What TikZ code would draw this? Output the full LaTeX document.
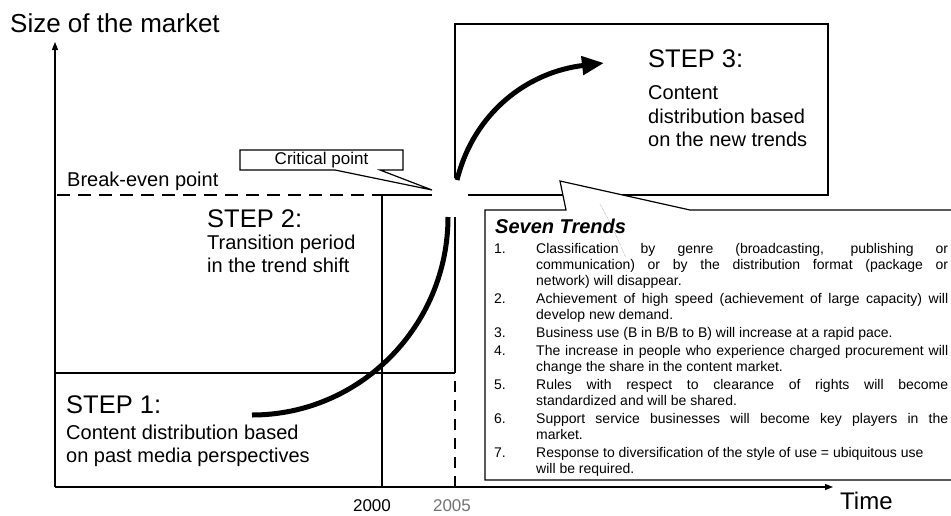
\documentclass[tikz,border=0pt]{standalone}
\usepackage{fontspec}
\setmainfont{Liberation Sans}
\usetikzlibrary{arrows.meta}
\newcommand\setfs[1]{\fontsize{#1}{#1}\selectfont}
\newcommand\jline[1]{\makebox[412pt][s]{#1}}
\begin{document}
\begin{tikzpicture}[x=1pt,y=-1pt,
  rule/.style={line width=1.2pt, black},
  axis/.style={rule, -{Triangle[length=8pt,width=6pt]}},
  trendline/.style={line width=5pt, black},
  lbl/.style={inner sep=0pt, anchor=base west},
  steptitle/.style={lbl, font=\setfs{25.5}},
  stepsub/.style={lbl, font=\setfs{20}},
  listtext/.style={lbl, font=\setfs{14}},
  callout/.style={rule, fill=white, line join=miter}
]
\useasboundingbox (0,0) rectangle (951,515);
\fill[white] (0,0) rectangle (951,515);

% axes
\coordinate (O) at (55,487);
\coordinate (ytop) at (55,42);
\coordinate (xend) at (833,487);
\draw[axis] (O) -- (ytop);
\draw[axis] (O) -- (xend);

% period grid: step 1 / step 2 areas, years 2000 and 2005
\draw[rule] (55,373) -- (455,373);
\draw[rule] (382,195) -- (382,487);
\draw[rule] (455,217) -- (455,373);
\draw[rule, dash pattern=on 11pt off 8pt] (455,381) -- (455,487);

% break-even level
\draw[rule, dash pattern=on 13pt off 8pt] (57,195) -- (382,195);
\draw[rule] (382,195) -- (432,195);

% step 3 frame
\draw[rule] (455,178) -- (455,24) -- (828,24) -- (828,195) -- (468,195);

% seven trends callout
\fill[white] (485,210) -- (566,210) -- (560,181) -- (690,210) -- (951,210) -- (951,480) -- (485,480) -- cycle;
\draw[rule, line join=miter] (951,210) -- (690,210) -- (560,181) -- (566,210) -- (485,210) -- (485,480) -- (951,480);
\draw[gray, densely dotted, line width=0.5pt] (600,204) .. controls (612,226) .. (626,258);

% critical point callout
\draw[callout] (240,150) -- (403,150) -- (403,170) -- (380,170) -- (432,190) -- (335,170) -- (240,170) -- cycle;
\node[inner sep=0pt] (crit) at (321.5,160.5) {\setfs{17}Critical point};

% market growth curve
\coordinate (c0) at (252,415);
\coordinate (c1) at (448,217);
\coordinate (c2) at (457,180);
\coordinate (c3) at (604,63);
\draw[trendline] (c0) .. controls (360,415) and (448,326) .. (c1);
\draw[trendline, -{Triangle[length=22pt,width=18pt]}] (c2) .. controls (474,112) and (528,72) .. (c3);

% labels
\node[lbl, font=\setfs{26}] (ylabel) at (10,32) {Size of the market};
\node[lbl, font=\setfs{20}] (bep) at (67,186) {Break-even point};
\node[lbl, font=\setfs{24}] (xlabel) at (840,509) {Time};
\node[inner sep=0pt, anchor=base, font=\setfs{17}] (y2000) at (372,511) {2000};
\node[inner sep=0pt, anchor=base, font=\setfs{17}, text=black!55] (y2005) at (452,511) {2005};

\node[steptitle] (s2t) at (207,227) {STEP 2:};
\node[stepsub] (s2a) at (207,249) {Transition period};
\node[stepsub] (s2b) at (207,272) {in the trend shift};

\node[steptitle] (s1t) at (66,413) {STEP 1:};
\node[stepsub] (s1a) at (66,439) {Content distribution based};
\node[stepsub] (s1b) at (66,462) {on past media perspectives};

\node[steptitle] (s3t) at (648,67) {STEP 3:};
\node[stepsub] (s3a) at (648,99) {Content};
\node[stepsub] (s3b) at (648,123) {distribution based};
\node[stepsub] (s3c) at (648,146) {on the new trends};

% seven trends list
\node[lbl, font=\setfs{20}\bfseries\itshape] (trendhead) at (495,233) {Seven Trends};
\foreach \n/\yy in {1/253,2/303,3/337,4/355,5/389,6/423,7/457}
  \node[listtext] (num\n) at (494,\yy) {\n.};
\node[listtext] (t1a) at (536,253) {\jline{Classification by genre (broadcasting, publishing or}};
\node[listtext] (t1b) at (536,269) {\jline{communication) or by the distribution format (package or}};
\node[listtext] (t1c) at (536,285) {network) will disappear.};
\node[listtext] (t2a) at (536,303) {\jline{Achievement of high speed (achievement of large capacity) will}};
\node[listtext] (t2b) at (536,319) {develop new demand.};
\node[listtext] (t3a) at (536,337) {Business use (B in B/B to B) will increase at a rapid pace.};
\node[listtext] (t4a) at (536,355) {\jline{The increase in people who experience charged procurement will}};
\node[listtext] (t4b) at (536,371) {change the share in the content market.};
\node[listtext] (t5a) at (536,389) {\jline{Rules with respect to clearance of rights will become}};
\node[listtext] (t5b) at (536,405) {standardized and will be shared.};
\node[listtext] (t6a) at (536,423) {\jline{Support service businesses will become key players in the}};
\node[listtext] (t6b) at (536,439) {market.};
\node[listtext] (t7a) at (536,457) {Response to diversification of the style of use = ubiquitous use};
\node[listtext] (t7b) at (536,473) {will be required.};
\end{tikzpicture}
\end{document}
